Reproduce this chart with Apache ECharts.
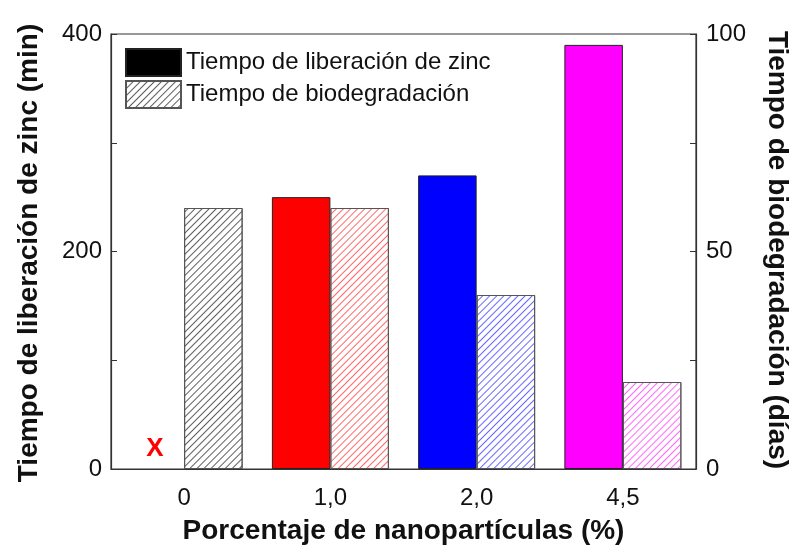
<!DOCTYPE html>
<html><head><meta charset="utf-8">
<script src="https://cdn.jsdelivr.net/npm/echarts@6/dist/echarts.min.js"></script>
<style>html,body{margin:0;padding:0;background:#fff}#c{width:796px;height:549px}</style>
</head><body><div id="c"></div>
<script>
var categories = ['0', '1,0', '2,0', '4,5'];
var zincMinutes = [0, 250, 270, 390];
var biodegDays = [60, 60, 40, 20];
var barColors = ['#ff0000', '#ff0000', '#0000ff', '#ff00ff'];
var hatchColors = ['rgba(40,40,40,0.75)', 'rgba(255,40,40,0.7)', 'rgba(40,40,255,0.7)', 'rgba(255,40,255,0.7)'];
var seriesNames = ['Tiempo de liberación de zinc', 'Tiempo de biodegradación'];
var leftTicks = {min: 0, max: 400, interval: 200};
var rightTicks = {min: 0, max: 100, interval: 50};

var FONT = '"Liberation Sans", Arial, sans-serif';
function decal(color) {
  return {symbol: 'rect', symbolSize: 1, color: color, dashArrayX: [1, 0], dashArrayY: [0.8, 3.2], rotation: -Math.PI / 4};
}

var chart = echarts.init(document.getElementById('c'), null, {renderer: 'canvas'});
chart.setOption({
  animation: false,
  backgroundColor: '#fff',
  grid: {left: 111, right: 100, top: 34, bottom: 80, containLabel: false, outerBoundsMode: 'none',
         show: true, borderColor: '#333', borderWidth: 1.2, backgroundColor: 'transparent'},
  legend: {
    left: 120, top: 43, orient: 'vertical', itemWidth: 55, itemHeight: 27, itemGap: 3,
    icon: 'rect',
    textStyle: {fontFamily: FONT, fontSize: 24, color: '#111'},
    data: seriesNames
  },
  xAxis: {
    type: 'category', data: categories,
    name: 'Porcentaje de nanopartículas (%)', nameLocation: 'middle', nameGap: 48,
    nameTextStyle: {fontFamily: FONT, fontSize: 28, fontWeight: 'bold', color: '#111'},
    axisLine: {show: true, lineStyle: {color: '#333', width: 1.2}},
    axisTick: {show: false},
    axisLabel: {fontFamily: FONT, fontSize: 24, color: '#111', margin: 17}
  },
  yAxis: [{
    type: 'value', min: leftTicks.min, max: leftTicks.max, interval: leftTicks.interval,
    axisLine: {show: true, lineStyle: {color: '#333', width: 1.2}},
    axisTick: {show: true, inside: true, length: 6, lineStyle: {color: '#333'}},
    minorTick: {show: true, splitNumber: 2, length: 6, lineStyle: {color: '#333'}},
    splitLine: {show: false},
    axisLabel: {fontFamily: FONT, fontSize: 24, color: '#111', margin: 9}
  }, {
    type: 'value', position: 'right', min: rightTicks.min, max: rightTicks.max, interval: rightTicks.interval,
    axisLine: {show: true, lineStyle: {color: '#333', width: 1.2}},
    axisTick: {show: true, inside: true, length: 6, lineStyle: {color: '#333'}},
    minorTick: {show: true, splitNumber: 2, length: 6, lineStyle: {color: '#333'}},
    splitLine: {show: false},
    axisLabel: {fontFamily: FONT, fontSize: 24, color: '#111', margin: 10}
  }],
  graphic: [
    {type: 'text', x: 29, y: 253, rotation: Math.PI / 2,
     style: {text: 'Tiempo de liberación de zinc (min)', font: 'bold 28px ' + FONT, fill: '#111', textAlign: 'center', textVerticalAlign: 'middle'}},
    {type: 'text', x: 777, y: 250, rotation: -Math.PI / 2,
     style: {text: 'Tiempo de biodegradación (días)', font: 'bold 28px ' + FONT, fill: '#111', textAlign: 'center', textVerticalAlign: 'middle'}}
  ],
  series: [{
    name: seriesNames[0], type: 'bar', yAxisIndex: 0, barGap: '0%', barCategoryGap: '20%',
    itemStyle: {color: '#000', borderColor: '#222', borderWidth: 1},
    data: zincMinutes.map(function (v, i) {
      var d = {value: v, itemStyle: {color: barColors[i], borderColor: '#222', borderWidth: v === 0 ? 0 : 1}};
      if (v === 0) {
        d.label = {show: true, position: 'top', distance: 7, formatter: 'X', color: '#ff0000', fontFamily: FONT, fontSize: 26, fontWeight: 'bold'};
      }
      return d;
    })
  }, {
    name: seriesNames[1], type: 'bar', yAxisIndex: 1, barGap: '0%', barCategoryGap: '20%',
    itemStyle: {color: '#fff', borderColor: '#555', borderWidth: 1, decal: decal('rgba(40,40,40,0.75)')},
    data: biodegDays.map(function (v, i) {
      return {value: v, itemStyle: {color: '#fff', borderColor: '#555', borderWidth: 1, decal: decal(hatchColors[i])}};
    })
  }]
});
</script></body></html>
